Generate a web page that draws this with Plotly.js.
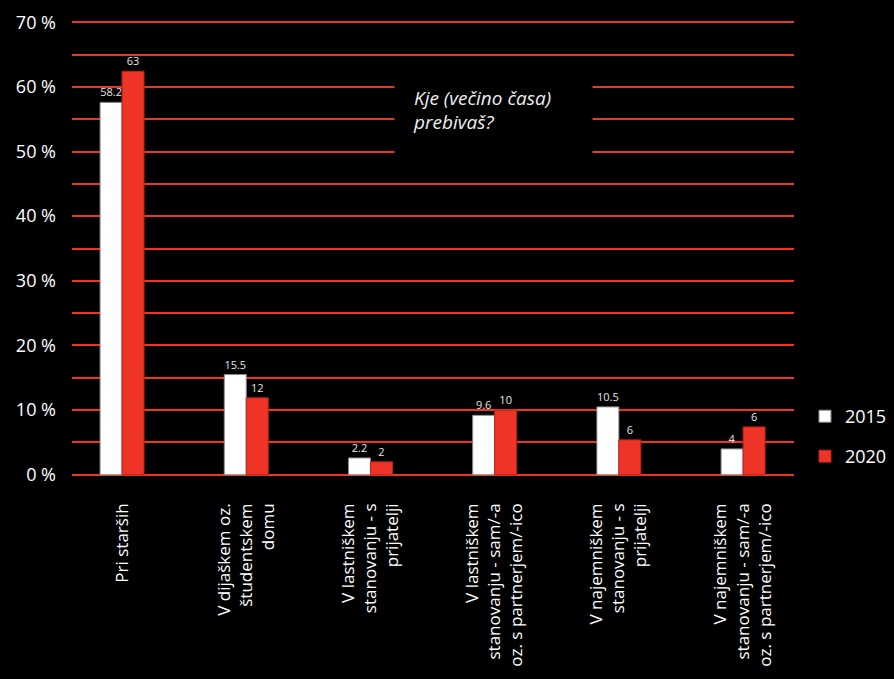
<!DOCTYPE html>
<html>
<head>
<meta charset="utf-8">
<script src="https://cdn.plot.ly/plotly-3.0.1.min.js"></script>
<style>html,body{margin:0;padding:0;background:#000;}</style>
</head>
<body>
<div id="chart" style="width:894px;height:679px;"></div>
<script>
const categories = [
  "Pri starših",
  "V dijaškem oz.<br>študentskem<br>domu",
  "V lastniškem<br>stanovanju - s<br>prijatelji",
  "V lastniškem<br>stanovanju - sam/-a<br>oz. s partnerjem/-ico",
  "V najemniškem<br>stanovanju - s<br>prijatelji",
  "V najemniškem<br>stanovanju - sam/-a<br>oz. s partnerjem/-ico"
];
const values2015 = [57.6, 15.5, 2.6, 9.2, 10.5, 4.0];
const values2020 = [62.4, 11.9, 2.0, 10.0, 5.4, 7.4];
const labels2015 = ["58.2", "15.5", "2.2", "9.6", "10.5", "4"];
const labels2020 = ["63", "12", "2", "10", "6", "6"];
const yTickVals = [0, 10, 20, 30, 40, 50, 60, 70];
const yTickText = yTickVals.map(v => v + " %");

const RED = "#EE3427";
const FONT = "Open Sans, Noto Sans, sans-serif";

const idx = categories.map((c, i) => i);

const traces = [
  {
    type: "bar", name: "2015", x: idx, y: values2015,
    text: labels2015, textposition: "outside", cliponaxis: false,
    textfont: {color: "#e6e6e6", size: 11, family: FONT},
    marker: {color: "#ffffff", line: {color: "#8a8a8a", width: 1}},
    hoverinfo: "skip", legend: "legend"
  },
  {
    type: "bar", name: "2020", x: idx, y: values2020,
    text: labels2020, textposition: "outside", cliponaxis: false,
    textfont: {color: "#e6e6e6", size: 11, family: FONT},
    marker: {color: RED, line: {color: "#b82418", width: 1}},
    hoverinfo: "skip", legend: "legend2"
  }
];

const layout = {
  width: 894, height: 679,
  paper_bgcolor: "#000", plot_bgcolor: "#000",
  margin: {l: 72, r: 100, t: 19, b: 201, autoexpand: false},
  barmode: "group", bargap: 0.646, bargroupgap: 0,
  font: {family: FONT, color: "#ffffff"},
  xaxis: {
    range: [-0.403, 5.41],
    tickvals: idx, ticktext: categories,
    tickangle: -90, ticks: "", showgrid: false, zeroline: false, showline: false,
    tickfont: {size: 17, color: "#ffffff", family: FONT},
    ticklabelstandoff: 21, automargin: false
  },
  yaxis: {
    range: [-0.5, 70.5],
    tickvals: yTickVals, ticktext: yTickText,
    showgrid: true, gridcolor: RED, gridwidth: 2,
    minor: {dtick: 5, tick0: 0, showgrid: true, gridcolor: RED, gridwidth: 2},
    zeroline: false, showline: false, ticks: "",
    tickfont: {size: 18, color: "#ffffff", family: FONT},
    ticklabelstandoff: 15, automargin: false
  },
  showlegend: true,
  legend: {x: 1.0152, xanchor: "left", y: 0.134, yanchor: "middle",
    bgcolor: "rgba(0,0,0,0)", font: {size: 18, color: "#fff", family: FONT}},
  legend2: {x: 1.0152, xanchor: "left", y: 0.047, yanchor: "middle",
    bgcolor: "rgba(0,0,0,0)", font: {size: 18, color: "#fff", family: FONT}},
  annotations: [{
    xref: "x", yref: "y", x: 2.99, y: 56.4,
    text: "<i>Kje (večino časa)<br>prebivaš?</i>",
    showarrow: false, align: "left",
    width: 161, height: 64, borderpad: 18,
    bgcolor: "#000",
    font: {size: 19, color: "#eeeeee", family: FONT}
  }]
};

Plotly.newPlot("chart", traces, layout, {displayModeBar: false, staticPlot: true});
</script>
</body>
</html>
